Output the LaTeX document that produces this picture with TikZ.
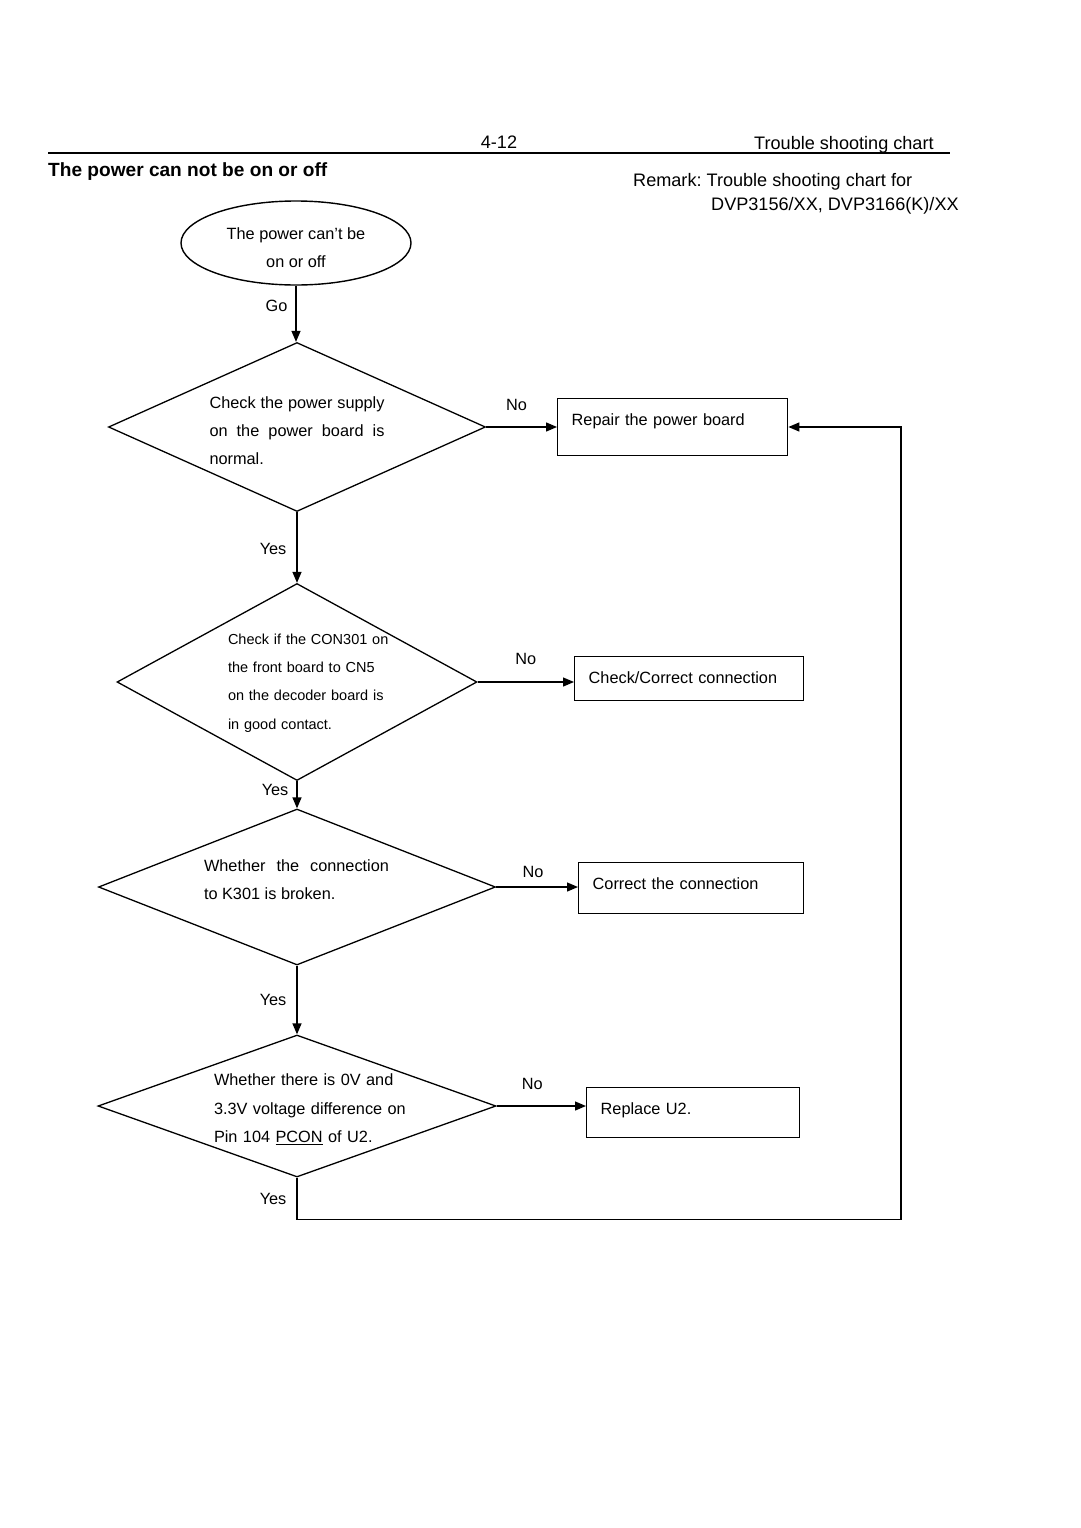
\documentclass[tikz,border=0pt]{standalone}
\usepackage{fontspec}
\setmainfont{Liberation Sans}
\usetikzlibrary{shapes.geometric, arrows.meta, positioning}

\begin{document}
\frenchspacing
\begin{tikzpicture}[
  x=1pt, y=-1pt,
  every node/.style={inner sep=0pt},
  txt/.style={font=\fontsize{16.3}{28}\selectfont},
  lbl/.style={font=\fontsize{16.3}{20}\selectfont},
  head/.style={font=\fontsize{18.1}{22}\selectfont},
  terminal/.style={ellipse, draw, line width=1.4pt, minimum width=230pt, minimum height=84pt,
                   text height=50pt, align=center, txt},
  decision/.style={diamond, draw, line width=1.3pt},
  action/.style={rectangle, draw, line width=1.4pt, anchor=north west, inner xsep=14pt,
                 text height=27pt, align=left, txt},
  arrow/.style={-{Triangle[length=11pt,width=9pt]}, line width=1.3pt}
]

\fill[white] (0,0) rectangle (1080,1528);
\useasboundingbox (0,0) rectangle (1080,1528);

% page header
\draw[line width=1.3pt] (48,153) -- (950,153);
\node[head, anchor=base] (page) at (499,148.5) {4-12};
\node[head, anchor=base west] (chart) at (754,149.5) {Trouble shooting chart};
\node[font=\fontsize{19.1}{22}\selectfont\bfseries, anchor=base west] (title) at (48,176) {The power can not be on or off};
\node[head, anchor=base west] (remark) at (633,186.5) {Remark: Trouble shooting chart for};
\node[head, anchor=base west] (models) at (711,210.5) {DVP3156/XX, DVP3166(K)/XX};

% chart
\node[terminal] (start) at (296,243) {The power can’t be\\on or off};

\node[decision, minimum width=377pt, minimum height=169pt] (d1) at (297,427) {};
\node[txt, text width=175pt, align=justify] (d1text) at (297,431)
  {Check the power supply\linebreak on the power board is\linebreak normal.};

\node[decision, minimum width=360pt, minimum height=197pt] (d2) at (297,682) {};
\node[font=\fontsize{14.5}{28.3}\selectfont, text width=170pt, align=left] (d2text) at (313,683)
  {Check if the CON301 on\\the front board to CN5\\on the decoder board is\\in good contact.};

\node[decision, minimum width=397pt, minimum height=156pt] (d3) at (297,887) {};
\node[txt, text width=185pt, align=justify] (d3text) at (296.5,880)
  {Whether the connection\linebreak to K301 is broken.};

\node[decision, minimum width=398pt, minimum height=142pt] (d4) at (297,1106) {};
\node[font=\fontsize{16.3}{28.5}\selectfont, text width=204pt, align=left] (d4text) at (316,1109.5)
  {Whether there is 0V and\\3.3V voltage difference on\\Pin 104 \underline{PCON} of U2.};

\node[action, text width=202pt, text depth=30pt] (b1) at (557,398) {Repair the power board};
\node[action, text width=201pt, text depth=17pt] (b2) at (574,656) {Check/Correct connection};
\node[action, text width=197pt, text depth=24pt] (b3) at (578,862) {Correct the connection};
\node[action, text width=185pt, text depth=23pt] (b4) at (586,1087) {Replace U2.};

\coordinate (ret) at (901,427);

\draw[arrow] (start.south) -- node[lbl, pos=0.36, left=8pt] (lgo) {Go} (start.south |- d1.north);
\draw[arrow] (d1.east) -- node[lbl, above=16pt, xshift=-5pt] (ln1) {No} (d1.east -| b1.west);
\draw[arrow] (d1.south) -- node[lbl, pos=0.52, left=10pt] (ly1) {Yes} (d2.north);
\draw[arrow] (d2.east) -- node[lbl, above=17pt] (ln2) {No} (d2.east -| b2.west);
\draw[arrow] (d2.south) -- node[lbl, pos=0.31, left=8pt] (ly2) {Yes} (d3.north);
\draw[arrow] (d3.east) -- node[lbl, above=9pt, xshift=-4pt] (ln3) {No} (d3.east -| b3.west);
\draw[arrow] (d3.south) -- node[lbl, left=10pt] (ly3) {Yes} (d4.north);
\draw[arrow] (d4.east) -- node[lbl, above=16pt, xshift=-9pt] (ln4) {No} (d4.east -| b4.west);
\draw[arrow] (d4.south) -- node[lbl, left=10pt] (ly4) {Yes} ++(0,42) -| (ret) -- (ret -| b1.east);

\end{tikzpicture}
\end{document}
